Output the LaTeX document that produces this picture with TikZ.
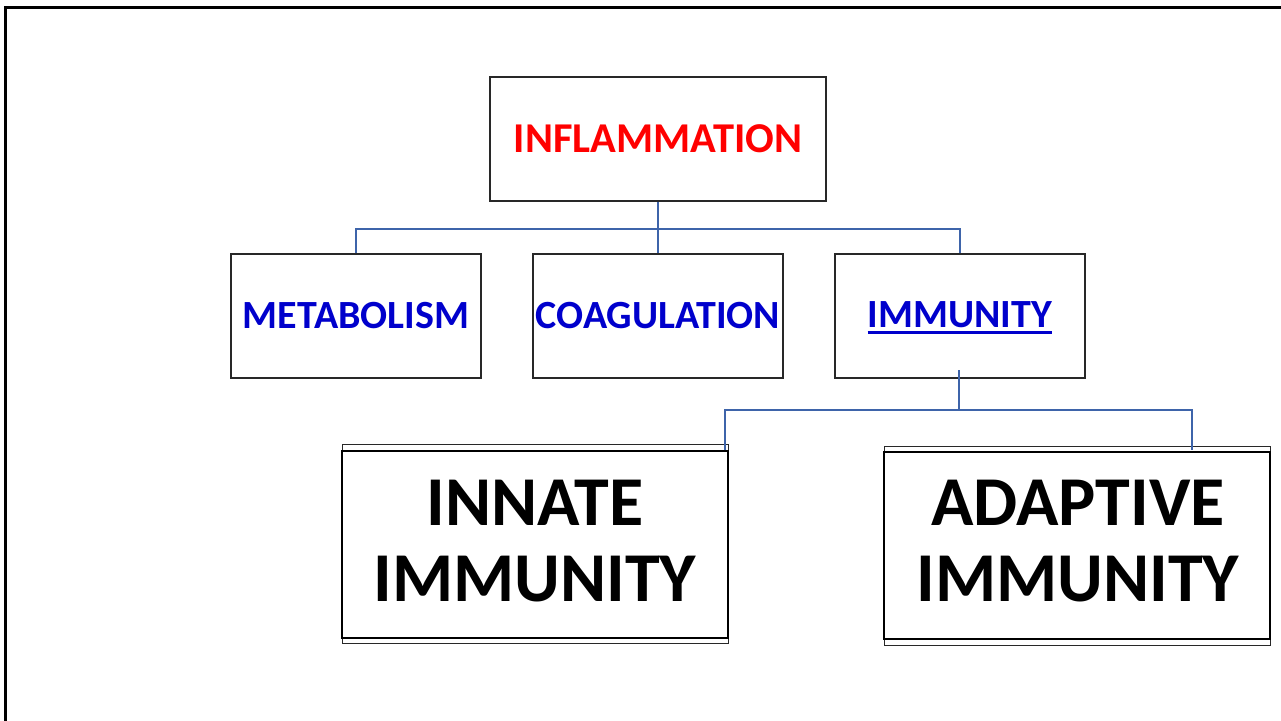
\documentclass[tikz,border=0pt]{standalone}
\usepackage{fontspec}
\setmainfont{Carlito}
\definecolor{conn}{RGB}{62,100,170}
\definecolor{tblue}{RGB}{0,0,204}
\definecolor{edge}{RGB}{40,40,40}
\begin{document}
\begin{tikzpicture}[x=1pt,y=-1pt,
  box/.style={draw=edge,line width=1.3pt,rectangle,minimum width=250pt,minimum height=124pt,inner sep=0pt},
  small/.style={font=\fontsize{40}{44}\selectfont\bfseries},
  big/.style={font=\fontsize{70}{76}\selectfont\bfseries,align=center},
  link/.style={draw=conn,line width=1.3pt}]
\useasboundingbox (0,0) rectangle (1281,720);
\fill[white] (0,0) rectangle (1281,720);
\draw[line width=3pt] (5.5,721) -- (5.5,7.5) -- (1282,7.5);
% top level
\node[box,minimum width=336pt,text=red,font=\fontsize{42.5}{46}\selectfont\bfseries] (inf) at (658,139) {INFLAMMATION};
\node[box,text=tblue,small] (meta) at (356,316) {METABOLISM};
\node[box,text=tblue,small] (coag) at (658,316) {COAGULATION};
\node[box] (imm) at (960,316) {};
\node[text=tblue,small,inner sep=0pt] (immT) at (960,315) {IMMUNITY};
\draw[tblue,line width=2.6pt] ([yshift=-4.5pt]immT.base west) -- ([yshift=-4.5pt]immT.base east);
% bottom boxes
\node[draw=edge,line width=0.9pt,minimum width=386pt,minimum height=199pt,inner sep=0pt] (innO) at (535,543.5) {};
\node[draw=black,line width=1.4pt,minimum width=386pt,minimum height=187pt,inner sep=0pt] (inn) at (535,544.5) {};
\node[big] (innT) at (535,541) {INNATE\\IMMUNITY};
\node[draw=edge,line width=0.9pt,minimum width=386pt,minimum height=199pt,inner sep=0pt] (adaO) at (1077,545.5) {};
\node[draw=black,line width=1.4pt,minimum width=386pt,minimum height=187pt,inner sep=0pt] (ada) at (1077,545.5) {};
\node[big] (adaT) at (1078,541) {ADAPTIVE\\IMMUNITY};
% connectors
\coordinate (bus) at (658,229);
\draw[link] (inf.south) -- (coag.north);
\draw[link] (meta.north) |- (bus) -| (imm.north);
\coordinate (i1) at (959,370);
\coordinate (i2) at (959,410);
\coordinate (innE) at (725,450);
\coordinate (adaE) at (1192,450);
\draw[link] (i1) -- (i2);
\draw[link] (innE) |- (i2) -| (adaE);
\end{tikzpicture}
\end{document}
